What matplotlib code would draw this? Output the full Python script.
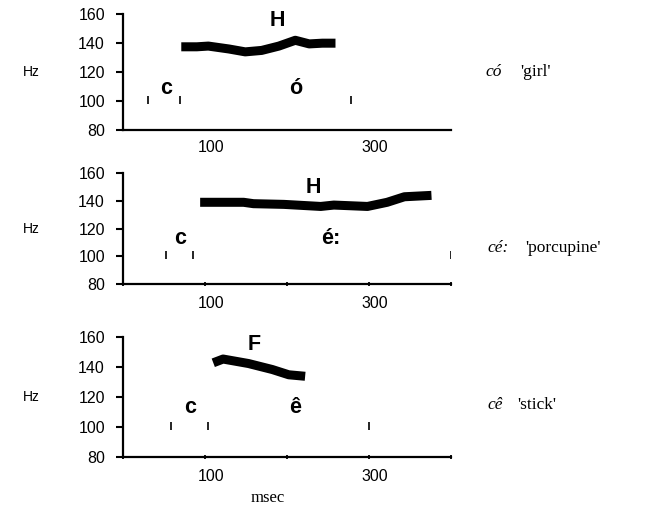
import matplotlib
matplotlib.use('Agg')
import matplotlib.pyplot as plt
from matplotlib.transforms import ScaledTranslation

# pitch tracks (msec, Hz)
co_ms = [71, 90, 104, 129, 149, 169, 190, 210, 227, 243, 259]
co_hz = [137.5, 137.5, 138, 136, 134, 135, 138, 142, 139.5, 140, 140]
cee_ms = [94, 120, 147, 159, 196, 241, 257, 298, 322, 343, 376]
cee_hz = [139, 139, 139, 138, 137.5, 136, 137, 136, 139, 143, 144]
ce_ms = [110, 122, 153, 182, 202, 222]
ce_hz = [143, 145.5, 142.5, 138.5, 135, 134]

# segment boundaries (msec)
co_bounds = [31, 69, 278]
cee_bounds = [52, 85, 400]
ce_bounds = [59, 104, 300]

# labels: (text, msec, Hz)
co_labels = [('H', 188, 156), ('c', 53, 109), ('ó', 210, 109)]
cee_labels = [('H', 232, 150), ('c', 69, 113), ('é:', 253, 113)]
ce_labels = [('F', 160, 155), ('c', 82, 113), ('ê', 210, 113)]

words = ['có', 'cé:', 'cê']
glosses = ["'girl'", "'porcupine'", "'stick'"]

fig = plt.figure(figsize=(6.51, 5.08), dpi=100)
boxes = [[0.189, 0.744, 0.504, 0.228],
         [0.189, 0.441, 0.504, 0.218],
         [0.189, 0.100, 0.504, 0.236]]
tracks = [(co_ms, co_hz), (cee_ms, cee_hz), (ce_ms, ce_hz)]
bounds = [co_bounds, cee_bounds, ce_bounds]
labels = [co_labels, cee_labels, ce_labels]
word_y = [72, 248, 405]
word_x = [485, 487, 487]
gloss_x = [520, 525, 517]

for i in range(3):
    ax = fig.add_axes(boxes[i])
    ms, hz = tracks[i]
    ax.plot(ms, hz, color='black', lw=6.5, solid_capstyle='butt', solid_joinstyle='round')
    ax.vlines(bounds[i], 98, 103.5, color='black', lw=1.2)
    for txt, x, y in labels[i]:
        ax.text(x, y, txt, fontsize=15.5, fontweight='bold', family='Liberation Sans',
                ha='center', va='center')
    ax.set_xlim(0, 400)
    ax.set_ylim(80, 160)
    ax.set_yticks([80, 100, 120, 140, 160])
    ax.set_xticks([0, 100, 200, 300, 400])
    ax.set_xticklabels(['', '100', '', '300', ''])
    for sp in ['top', 'right']:
        ax.spines[sp].set_visible(False)
    for sp in ['left', 'bottom']:
        ax.spines[sp].set_linewidth(1.6)
    ax.tick_params(axis='y', length=5, width=1.5, pad=8, labelsize=11.5)
    ax.tick_params(axis='x', length=0 if i == 0 else 3, width=1.3, direction='inout',
                   pad=7, labelsize=11.5)
    for lab in ax.get_xticklabels() + ax.get_yticklabels():
        lab.set_family('Liberation Sans')
    for lab in ax.get_xticklabels():
        lab.set_transform(lab.get_transform() + ScaledTranslation(0.06, 0, fig.dpi_scale_trans))
    ax.set_ylabel('Hz', rotation=0, fontsize=10, family='Liberation Sans', va='center')
    ax.yaxis.set_label_coords(-0.28, 0.5)
    fig.text(word_x[i] / 651, 1 - word_y[i] / 508, words[i], fontsize=12.5,
             family='Liberation Serif', style='italic', va='center')
    fig.text(gloss_x[i] / 651, 1 - word_y[i] / 508, glosses[i], fontsize=12.5,
             family='Liberation Serif', va='center')
    if i == 2:
        ax.set_xlabel('msec', fontsize=12, family='Liberation Serif')
        ax.xaxis.set_label_coords(0.44, -0.27)

fig.savefig('out.png', dpi=100)
